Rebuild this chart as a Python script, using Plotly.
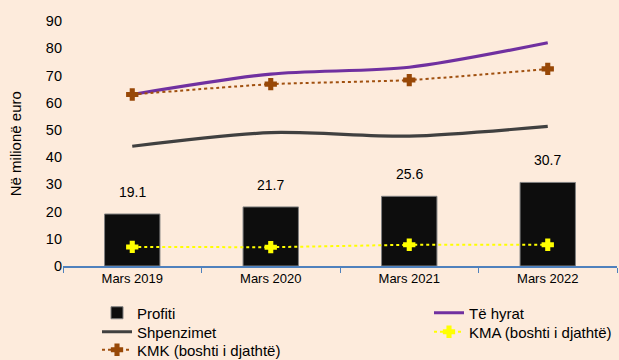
import plotly.graph_objects as go

# Categories and series
periods = ["Mars 2019", "Mars 2020", "Mars 2021", "Mars 2022"]
profiti = [19.1, 21.7, 25.6, 30.7]
te_hyrat = [63.0, 70.5, 73.0, 82.0]
shpenzimet = [44.0, 49.0, 47.7, 51.3]
kmk = [63.0, 66.8, 68.3, 72.4]
kma = [7.0, 6.9, 7.8, 7.8]

y_ticks = [0, 10, 20, 30, 40, 50, 60, 70, 80, 90]
y_title = "Në milionë euro"

BG = "#FDEBDC"
FONT = "Liberation Sans, Arial, sans-serif"

fig = go.Figure()

fig.add_trace(go.Bar(
    x=periods, y=profiti, name="Profiti",
    marker=dict(color="#0D0D0D", line=dict(color="#808080", width=1)),
    width=0.4, legend="legend",
))
fig.add_trace(go.Scatter(
    x=periods, y=te_hyrat, name="Të hyrat", mode="lines",
    line=dict(color="#7030A0", width=3.2, shape="spline", smoothing=0.8),
    legend="legend2",
))
fig.add_trace(go.Scatter(
    x=periods, y=shpenzimet, name="Shpenzimet", mode="lines",
    line=dict(color="#404040", width=3.2, shape="spline", smoothing=0.8),
    legend="legend3",
))
fig.add_trace(go.Scatter(
    x=periods, y=kma, name="KMA (boshti i djathtë)", mode="lines+markers",
    line=dict(color="#FFFF00", width=2, dash="dot"),
    marker=dict(symbol="cross", size=9, color="#FFFF00",
                line=dict(color="#FFFF00", width=1.5)),
    yaxis="y2", legend="legend4",
))
fig.add_trace(go.Scatter(
    x=periods, y=kmk, name="KMK (boshti i djathtë)", mode="lines+markers",
    line=dict(color="#A0500F", width=2, dash="dot", shape="spline", smoothing=0.6),
    marker=dict(symbol="cross", size=9, color="#984807",
                line=dict(color="#984807", width=1.5)),
    yaxis="y2", legend="legend5",
))

# Value labels above the bars
for p, v in zip(periods, profiti):
    fig.add_annotation(
        x=p, y=v, text=f"{v:.1f}", showarrow=False,
        yanchor="bottom", yshift=12,
        font=dict(family=FONT, size=14, color="#000000"),
    )

# Left axis title, drawn beside the tick labels
fig.add_annotation(
    x=0, y=0.497, xref="paper", yref="paper", xanchor="center", yanchor="middle",
    xshift=-48, text=y_title, textangle=-90, showarrow=False,
    font=dict(family=FONT, size=15, color="#000000"),
)


def legend_box(left_px, mid_px):
    # one legend entry per box, laid out as two columns below the plot
    return dict(
        orientation="v", xanchor="left", yanchor="middle",
        xref="container", yref="container",
        x=left_px / 619, y=1 - mid_px / 360,
        font=dict(family=FONT, size=15, color="#000000"),
        bgcolor="rgba(0,0,0,0)",
    )


fig.update_layout(
    width=619, height=360,
    margin=dict(l=63, r=2, t=21, b=94, autoexpand=False),
    paper_bgcolor=BG, plot_bgcolor=BG,
    font=dict(family=FONT, color="#000000"),
    showlegend=True,
    legend=legend_box(97, 313),
    legend2=legend_box(429, 313),
    legend3=legend_box(97, 332),
    legend4=legend_box(429, 332),
    legend5=legend_box(97, 350),
    xaxis=dict(
        showgrid=False, showline=True, linecolor="#4F81BD", linewidth=1.5,
        ticks="outside", tickson="boundaries", ticklen=5, tickcolor="#4F81BD",
        tickfont=dict(family=FONT, size=13, color="#000000"),
        automargin=False,
    ),
    yaxis=dict(
        range=[0, 90], tickvals=y_ticks, showgrid=False, zeroline=False,
        showline=False, ticks="", automargin=False,
        tickfont=dict(family=FONT, size=14.5, color="#000000"),
    ),
    yaxis2=dict(
        range=[0, 90], overlaying="y", side="right", visible=False,
    ),
)

fig.write_html("out.html")
